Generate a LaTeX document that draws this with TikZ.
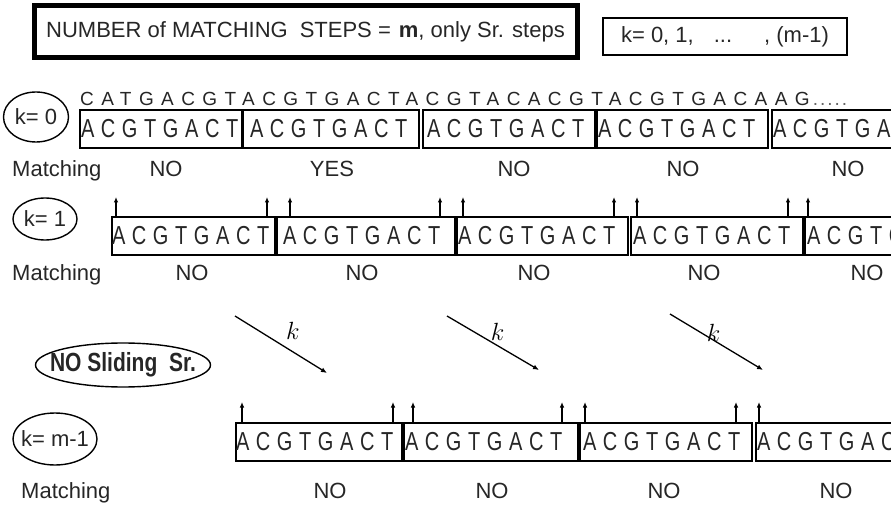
\documentclass[tikz,border=0pt]{standalone}
\usepackage{fontspec}
\usepackage{graphicx}
\setmainfont{Liberation Sans}
\newfontfamily\dnafont[LetterSpace=33]{Liberation Sans}
\newfontfamily\strandfont[LetterSpace=39]{Liberation Sans}
\usetikzlibrary{shapes.geometric,arrows.meta,positioning}

\newcommand{\dna}[1]{\scalebox{1}[1.3]{\fontsize{20}{20}\selectfont\dnafont #1}}

\tikzset{
  header/.style  = {draw, line width=5pt, minimum width=543pt, minimum height=52pt,
                    text=black!85, font=\fontsize{22}{22}\selectfont},
  krange/.style  = {draw, line width=1.6pt, minimum width=244pt, minimum height=37pt,
                    text=black!85, font=\fontsize{22}{22}\selectfont},
  kval/.style    = {ellipse, draw, line width=1.4pt, inner sep=0pt,
                    text=black!85, font=\fontsize{22}{22}\selectfont},
  seqbox/.style  = {draw, line width=1.3pt, inner sep=0pt, outer sep=0pt,
                    minimum height=38pt, text width=#1, align=left,
                    anchor=north west, text=black!85},
  lab/.style     = {inner sep=0pt, anchor=base, text=black!85,
                    font=\fontsize{22}{22}\selectfont},
  ptr/.style     = {line width=1.2pt, -{Latex[length=5.5pt,width=4.5pt]}},
  slidearrow/.style = {line width=1.3pt, -{Latex[length=6pt,width=5pt]}},
  klabel/.style  = {inner sep=0pt, font=\fontsize{24}{24}\selectfont}
}

\begin{document}
\begin{tikzpicture}[x=1pt, y=-1pt]
\useasboundingbox (0,0) rectangle (891,505);
\clip (0,0) rectangle (891,505);

% heading
\node[header] (steps) at (305.5,32)
  {NUMBER of MATCHING\hspace{12pt}STEPS =\hspace{8pt}\textbf{m}, only Sr. steps};
\node[krange] (range) at (725,36.5)
  {k= 0, 1,\hspace{20pt}...\hspace{32pt}, (m-1)};

% k = 0
\node[kval, minimum width=65pt, minimum height=50pt] (k0) at (36,117) {k= 0};
\node[anchor=base west, inner sep=0pt, text=black!85, font=\fontsize{19}{19}\selectfont] (strand) at (80,106)
  {\strandfont CATGACGTACGTGACTACGTACACGTACGTGACAAG{\normalfont\color{black!60}\,.\kern2pt.\kern2pt.\kern2pt.\kern2pt.}};
\node[seqbox=162pt] (a1) at (80,110)  {\hspace*{1pt}\dna{ACGTGACT}};
\node[seqbox=176pt] (a2) at (243,110) {\hspace*{7pt}\dna{ACGTGACT}};
\node[seqbox=172pt] (a3) at (423,110) {\hspace*{4pt}\dna{ACGTGACT}};
\node[seqbox=171pt] (a4) at (597,110) {\hspace*{1pt}\dna{ACGTGACT}};
\node[seqbox=150pt] (a5) at (772,110) {\hspace*{1pt}\dna{ACGTGACT}};
\node[lab, anchor=base west] (m0) at (12,177) {Matching};
\node[lab] (r01) at (166,177) {NO};
\node[lab] (r02) at (332,177) {YES};
\node[lab] (r03) at (514,177) {NO};
\node[lab] (r04) at (683,177) {NO};
\node[lab] (r05) at (848,177) {NO};

% k = 1
\node[kval, minimum width=64pt, minimum height=42pt] (k1) at (45,219) {k= 1};
\node[seqbox=163pt] (b1) at (112,217) {\dna{ACGTGACT}};
\node[seqbox=178pt] (b2) at (277,217) {\hspace*{6pt}\dna{ACGTGACT}};
\node[seqbox=171pt] (b3) at (457,217) {\hspace*{1pt}\dna{ACGTGACT}};
\node[seqbox=172pt] (b4) at (631,217) {\hspace*{2pt}\dna{ACGTGACT}};
\node[seqbox=150pt] (b5) at (805,217) {\hspace*{2pt}\dna{ACGTGACT}};
\draw[ptr] ([xshift=4pt]b1.north west) -- ++(0,-20);
\draw[ptr] ([xshift=155pt]b1.north west) -- ++(0,-20);
\draw[ptr] ([xshift=13pt]b2.north west) -- ++(0,-20);
\draw[ptr] ([xshift=163pt]b2.north west) -- ++(0,-20);
\draw[ptr] ([xshift=6pt]b3.north west) -- ++(0,-20);
\draw[ptr] ([xshift=157pt]b3.north west) -- ++(0,-20);
\draw[ptr] ([xshift=6pt]b4.north west) -- ++(0,-20);
\draw[ptr] ([xshift=157pt]b4.north west) -- ++(0,-20);
\draw[ptr] ([xshift=3pt]b5.north west) -- ++(0,-20);
\node[lab, anchor=base west] (m1) at (12,280) {Matching};
\node[lab] (r11) at (192,280) {NO};
\node[lab] (r12) at (362,280) {NO};
\node[lab] (r13) at (534,280) {NO};
\node[lab] (r14) at (704,280) {NO};
\node[lab] (r15) at (867,280) {NO};

% sliding steps
\node[kval, minimum width=175pt, minimum height=44pt] (nosl) at (123,365)
  {\makebox[120pt]{\scalebox{1}[1.25]{\fontsize{21}{21}\selectfont\bfseries NO Sliding\ \ Sr.}}};
\coordinate (s1a) at (235,316); \coordinate (s1b) at (327,373);
\coordinate (s2a) at (447,316); \coordinate (s2b) at (539,370);
\coordinate (s3a) at (670,314); \coordinate (s3b) at (763,370);
\draw[slidearrow] (s1a) -- node[klabel, above=12pt, pos=0.63] {$k$} (s1b);
\draw[slidearrow] (s2a) -- node[klabel, above=5pt, pos=0.55] {$k$} (s2b);
\draw[slidearrow] (s3a) -- node[klabel, above=-2pt, pos=0.47] {$k$} (s3b);

% k = m-1
\node[kval, minimum width=84pt, minimum height=52pt] (km) at (55,439) {\makebox[52pt]{k= m-1}};
\node[seqbox=166pt] (c1) at (236,423) {\dna{ACGTGACT}};
\node[seqbox=174pt] (c2) at (404,423) {\hspace*{1pt}\dna{ACGTGACT}};
\node[seqbox=172pt] (c3) at (580,423) {\hspace*{3pt}\dna{ACGTGACT}};
\node[seqbox=150pt] (c4) at (756,423) {\hspace*{1pt}\dna{ACGTGACT}};
\draw[ptr] ([xshift=6pt]c1.north west) -- ++(0,-21);
\draw[ptr] ([xshift=157pt]c1.north west) -- ++(0,-21);
\draw[ptr] ([xshift=9pt]c2.north west) -- ++(0,-21);
\draw[ptr] ([xshift=158pt]c2.north west) -- ++(0,-21);
\draw[ptr] ([xshift=5pt]c3.north west) -- ++(0,-21);
\draw[ptr] ([xshift=156pt]c3.north west) -- ++(0,-21);
\draw[ptr] ([xshift=3pt]c4.north west) -- ++(0,-21);
\node[lab, anchor=base west] (m2) at (21,498) {Matching};
\node[lab] (r21) at (330,498) {NO};
\node[lab] (r22) at (492,498) {NO};
\node[lab] (r23) at (664,498) {NO};
\node[lab] (r24) at (836,498) {NO};
\end{tikzpicture}
\end{document}
